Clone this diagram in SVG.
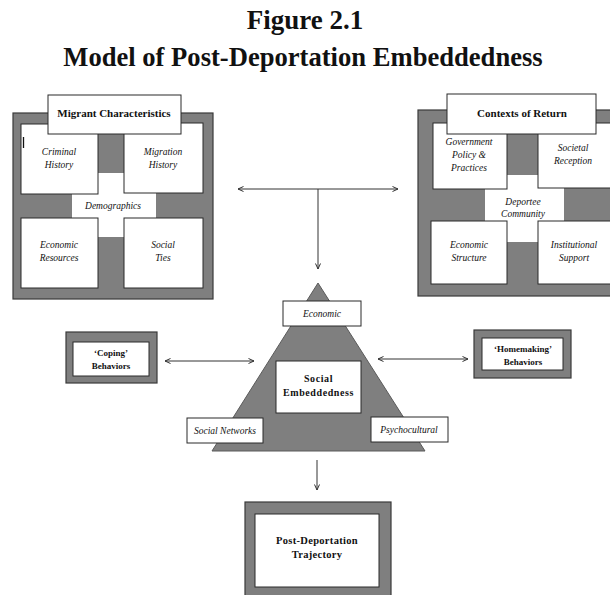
<svg xmlns="http://www.w3.org/2000/svg" width="610" height="595" viewBox="0 0 610 595">
<style>
.bg{fill:#ffffff}
.outer{fill:#7f7f7f;stroke:#3a3a3a;stroke-width:1.2}
.inner{fill:#ffffff;stroke:#2a2a2a;stroke-width:1}
.cross{fill:#ffffff;stroke:none}
.t{font-family:"Liberation Serif","Times New Roman",serif;fill:#111;text-anchor:middle}
.it{font-style:italic;font-size:9.5px}
.bd{font-weight:bold}
.conn{stroke:#333;stroke-width:1;fill:none}
</style>
<defs>
<marker id="ah" markerWidth="8" markerHeight="8" refX="6" refY="3" orient="auto-start-reverse" markerUnits="userSpaceOnUse">
<path d="M0.5,0.5 L6,3 L0.5,5.5" fill="none" stroke="#333" stroke-width="1"/>
</marker>
</defs>
<rect class="bg" x="0" y="0" width="610" height="595"/>

<g id="title">
<text class="t bd" x="305" y="29" font-size="27">Figure 2.1</text>
<text class="t bd" x="303" y="66" font-size="26.6">Model of Post-Deportation Embeddedness</text>
</g>

<g id="migrant-characteristics">
<rect class="outer" x="13" y="113" width="200" height="186"/>
<rect class="cross" x="98" y="173" width="26" height="64"/>
<rect class="cross" x="72" y="193" width="84" height="25"/>
<rect class="inner" x="21" y="124" width="77" height="70"/>
<rect class="inner" x="124" y="123" width="79" height="70"/>
<rect class="inner" x="21" y="218" width="77" height="70"/>
<rect class="inner" x="124" y="218" width="79" height="70"/>
<rect class="inner" x="48" y="95" width="133" height="39"/>
<line x1="23.5" y1="137" x2="23.5" y2="148" stroke="#111" stroke-width="1.3"/>
<text class="t bd" x="114" y="117" font-size="11">Migrant Characteristics</text>
<text class="t it" x="59" y="155">Criminal</text>
<text class="t it" x="59" y="168">History</text>
<text class="t it" x="163" y="155">Migration</text>
<text class="t it" x="163" y="168">History</text>
<text class="t it" x="113" y="209">Demographics</text>
<text class="t it" x="59" y="248">Economic</text>
<text class="t it" x="59" y="261">Resources</text>
<text class="t it" x="163" y="248">Social</text>
<text class="t it" x="163" y="261">Ties</text>
</g>

<g id="contexts-of-return">
<rect class="outer" x="418" y="110" width="196" height="186"/>
<rect class="cross" x="507" y="175" width="31" height="67"/>
<rect class="cross" x="485" y="188" width="79" height="33"/>
<rect class="inner" x="433" y="123" width="74" height="66"/>
<rect class="inner" x="538" y="123" width="75" height="65"/>
<rect class="inner" x="431" y="221" width="76" height="63"/>
<rect class="inner" x="538" y="221" width="75" height="63"/>
<rect class="inner" x="447" y="94" width="149" height="40"/>
<text class="t bd" x="522" y="117" font-size="11">Contexts of Return</text>
<text class="t it" x="469" y="145">Government</text>
<text class="t it" x="469" y="158">Policy &amp;</text>
<text class="t it" x="469" y="171">Practices</text>
<text class="t it" x="573" y="151">Societal</text>
<text class="t it" x="573" y="164">Reception</text>
<text class="t it" x="523" y="205">Deportee</text>
<text class="t it" x="523" y="217">Community</text>
<text class="t it" x="469" y="248">Economic</text>
<text class="t it" x="469" y="261">Structure</text>
<text class="t it" x="574" y="248">Institutional</text>
<text class="t it" x="574" y="261">Support</text>
</g>

<g id="social-embeddedness">
<polygon points="318,283 425,451 212,451" fill="#7f7f7f" stroke="#5a5a5a" stroke-width="1"/>
<rect class="inner" x="276" y="361" width="85" height="52"/>
<text class="t bd" x="318.5" y="382" font-size="10" letter-spacing="0.6">Social</text>
<text class="t bd" x="318.5" y="396" font-size="10" letter-spacing="0.6">Embeddedness</text>
</g>
<g id="economic">
<rect class="inner" x="283" y="301" width="78" height="25"/>
<text class="t it" x="322" y="317">Economic</text>
</g>
<g id="social-networks">
<rect class="inner" x="187" y="418" width="76" height="25"/>
<text class="t it" x="225" y="434">Social Networks</text>
</g>
<g id="psychocultural">
<rect class="inner" x="371" y="417" width="77" height="25"/>
<text class="t it" x="409" y="433">Psychocultural</text>
</g>

<g id="coping">
<rect class="outer" x="66" y="332" width="91" height="51"/>
<rect class="inner" x="73" y="342" width="76" height="34"/>
<text class="t bd" x="111" y="356" font-size="9">‘Coping’</text>
<text class="t bd" x="111" y="369" font-size="9">Behaviors</text>
</g>

<g id="homemaking">
<rect class="outer" x="474" y="330" width="97" height="48"/>
<rect class="inner" x="482" y="338" width="81" height="32"/>
<text class="t bd" x="523" y="352" font-size="9">‘Homemaking’</text>
<text class="t bd" x="523" y="365" font-size="9">Behaviors</text>
</g>

<g id="post-deportation">
<rect class="outer" x="245" y="502" width="146" height="97"/>
<rect class="inner" x="255" y="514" width="124" height="73"/>
<text class="t bd" x="317" y="544" font-size="10.5" letter-spacing="0.3">Post-Deportation</text>
<text class="t bd" x="317" y="558" font-size="10.5" letter-spacing="0.3">Trajectory</text>
</g>

<g id="connectors">
<line class="conn" x1="238" y1="189" x2="398" y2="189" marker-start="url(#ah)" marker-end="url(#ah)"/>
<line class="conn" x1="318" y1="189" x2="318" y2="269" marker-end="url(#ah)"/>
<line class="conn" x1="165" y1="361" x2="254" y2="361" marker-start="url(#ah)" marker-end="url(#ah)"/>
<line class="conn" x1="378" y1="359" x2="468" y2="359" marker-start="url(#ah)" marker-end="url(#ah)"/>
<line class="conn" x1="317" y1="460" x2="317" y2="490" marker-end="url(#ah)"/>
</g>
</svg>
